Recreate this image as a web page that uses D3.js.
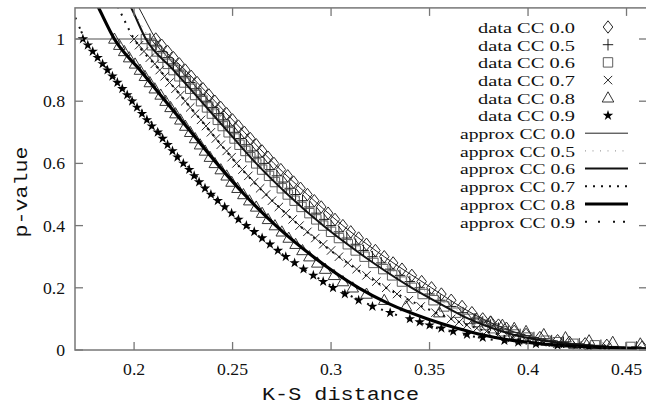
<!DOCTYPE html>
<html><head><meta charset="utf-8">
<script src="https://cdn.jsdelivr.net/npm/d3@7"></script>
<style>body{margin:0;background:#fff} svg{display:block}</style>
</head><body>
<svg id="c" width="646" height="405"></svg>
<script>
// ---------- data ----------
const xTicks = [0.2, 0.25, 0.3, 0.35, 0.4, 0.45];
const xTickLabels = ["0.2", "0.25", "0.3", "0.35", "0.4", "0.45"];
const yTicks = [0, 0.2, 0.4, 0.6, 0.8, 1];
const yTickLabels = ["0", "0.2", "0.4", "0.6", "0.8", "1"];

// p-value levels of the data points
const pLevels = [1.00,0.98,0.96,0.94,0.92,0.90,0.88,0.86,0.84,0.82,0.80,0.78,0.76,0.74,0.72,0.70,0.68,0.66,0.64,0.62,
  0.60,0.58,0.56,0.54,0.52,0.50,0.48,0.46,0.44,0.42,0.40,0.38,0.36,0.34,0.32,0.30,0.28,0.26,0.24,0.22,
  0.20,0.18,0.16,0.14,0.12,0.10,0.09,0.08,0.07,0.06,0.05,0.04,0.03,0.025,0.02,0.015,0.01];

// K-S distance of the data at each p level
const ksCC00 = [.211,.214,.217,.220,.223,.226,.229,.232,.235,.238,.241,.244,.247,.250,.253,.256,.259,.262,.265,.268,
  .271,.2745,.278,.281,.2845,.288,.2915,.295,.2985,.302,.306,.310,.314,.318,.3225,.327,.3315,.336,.341,.346,
  .351,.356,.361,.3665,.3715,.377,.381,.385,.389,.393,.399,.406,.415,.421,.429,.440,.458];
const ksCC05 = [.208,.211,.214,.217,.220,.223,.226,.2285,.2315,.234,.237,.240,.243,.2455,.2485,.251,.254,.257,.260,.263,
  .266,.269,.2725,.2755,.279,.282,.2855,.289,.2925,.2965,.300,.304,.308,.3125,.3165,.321,.3255,.330,.335,.340,
  .345,.350,.3555,.361,.367,.373,.377,.381,.385,.390,.396,.403,.412,.418,.426,.437,.455];
const ksCC06 = [.206,.209,.2115,.2145,.217,.220,.223,.2255,.2285,.231,.234,.237,.2395,.2425,.245,.248,.251,.2535,.2565,.259,
  .262,.265,.2685,.2715,.275,.278,.2815,.285,.289,.2925,.296,.300,.304,.3085,.3125,.317,.3215,.3265,.331,.336,
  .341,.3465,.352,.3575,.3635,.370,.374,.378,.382,.387,.393,.400,.409,.415,.423,.434,.452];
const ksCC07 = [.200,.2025,.205,.208,.2105,.213,.2155,.218,.221,.2235,.226,.2285,.231,.234,.2365,.239,.2415,.244,.247,.2495,
  .252,.255,.258,.261,.264,.267,.270,.2735,.277,.2805,.284,.288,.292,.296,.300,.304,.3085,.313,.318,.323,
  .328,.3335,.3395,.3455,.353,.361,.365,.369,.374,.379,.385,.392,.401,.407,.415,.425,.440];
const ksCC08 = [.190,.1925,.195,.1975,.2005,.203,.2055,.208,.2105,.2135,.216,.2185,.221,.2235,.226,.2285,.231,.2335,.236,.2385,
  .241,.244,.247,.2495,.2525,.2555,.2585,.262,.265,.268,.2715,.275,.2785,.282,.2855,.289,.293,.297,.3015,.306,
  .311,.318,.327,.338,.355,.374,.381,.387,.393,.399,.408,.419,.431,.443,.457,.475,.500];
const ksCC09 = [.174,.1765,.179,.1815,.184,.1865,.189,.1915,.194,.1965,.199,.2015,.204,.2065,.209,.212,.2145,.217,.2195,.222,
  .225,.228,.2305,.233,.236,.239,.2425,.246,.2495,.253,.257,.261,.265,.269,.273,.277,.2815,.286,.291,.296,
  .301,.307,.314,.321,.330,.340,.345,.350,.356,.362,.369,.377,.388,.395,.404,.415,.431];

// approximation curves: K-S distance at each p level
const pApprox = [1.15,1.10,1.00,0.90,0.80,0.70,0.60,0.50,0.40,0.30,0.20,0.15,0.10,0.07,0.05,0.03,0.02,0.013,0.008,0.005];
const apCC00 = [.198,.2025,.211,.226,.241,.256,.271,.288,.306,.327,.351,.363,.377,.388,.397,.412,.424,.437,.452,.470];
const apCC05 = [.195,.199,.208,.223,.237,.251,.266,.282,.300,.321,.345,.358,.373,.384,.394,.410,.422,.435,.450,.467];
const apCC06 = [.194,.1985,.206,.220,.234,.248,.262,.278,.296,.317,.341,.355,.370,.382,.392,.408,.420,.433,.448,.465];
const apCC07 = [.188,.192,.200,.213,.226,.239,.252,.267,.284,.304,.328,.343,.361,.374,.385,.401,.414,.428,.444,.462];
const apCC08 = [.178,.182,.190,.203,.216,.229,.242,.256,.272,.291,.314,.329,.349,.364,.376,.393,.406,.420,.436,.455];
const apCC09 = [.164,.168,.175,.187,.200,.213,.226,.240,.257,.277,.302,.318,.339,.354,.367,.385,.399,.414,.431,.450];

const dataLabels = ["data CC 0.0","data CC 0.5","data CC 0.6","data CC 0.7","data CC 0.8","data CC 0.9"];
const approxLabels = ["approx CC 0.0","approx CC 0.5","approx CC 0.6","approx CC 0.7","approx CC 0.8","approx CC 0.9"];
const unitRef = {p: 1, from: 0.17, to: 0.207};

// ---------- drawing ----------
const svg = d3.select("#c");
const W = 646, H = 405;
svg.append("rect").attr("width", W).attr("height", H).attr("fill", "#fff");

const x = d3.scaleLinear().domain([0.17, 0.4604]).range([75, 647]);
const y = d3.scaleLinear().domain([0, 1.1]).range([350, 7.9]);
const [x0, x1] = x.range(), [y0, y1] = y.range();

svg.append("clipPath").attr("id", "plot")
  .append("rect").attr("x", x0).attr("y", y1).attr("width", x1 - x0).attr("height", y0 - y1);

const axisCol = "#777";
const serif = "'Liberation Serif', 'DejaVu Serif', serif";
const mono = "'Liberation Mono', 'DejaVu Sans Mono', monospace";

// marker shapes
function markerPath(kind) {
  switch (kind) {
    case "diamond": return "M0,-6.2L4.8,0L0,6.2L-4.8,0Z";
    case "plus": return "M-5.2,0H5.2M0,-5.8V5.8";
    case "square": return "M-4.7,-4.7H4.7V4.7H-4.7Z";
    case "cross": return "M-4.2,-4.2L4.2,4.2M-4.2,4.2L4.2,-4.2";
    case "triangle": return "M0,-6L5.8,4.2L-5.8,4.2Z";
    case "star": return d3.symbol(d3.symbolStar, 34)();
  }
}
const dataSeries = [
  {ks: ksCC00, kind: "diamond", col: "#1a1a1a"},
  {ks: ksCC05, kind: "plus", col: "#111"},
  {ks: ksCC06, kind: "square", col: "#555"},
  {ks: ksCC07, kind: "cross", col: "#1a1a1a"},
  {ks: ksCC08, kind: "triangle", col: "#2a2a2a"},
  {ks: ksCC09, kind: "star", col: "#000"}
];
const approxSeries = [
  {ks: apCC00, w: 1, col: "#222", dash: null},
  {ks: apCC05, w: 1, col: "#888", dash: "1,6.5"},
  {ks: apCC06, w: 2, col: "#111", dash: null},
  {ks: apCC07, w: 2, col: "#111", dash: "2,6"},
  {ks: apCC08, w: 3.2, col: "#000", dash: null},
  {ks: apCC09, w: 2, col: "#111", dash: "2,11,2,13,2,8,2,3"}
];

const plot = svg.append("g").attr("clip-path", "url(#plot)");

// reference line at p = 1
plot.append("line")
  .attr("x1", x(unitRef.from)).attr("x2", x(unitRef.to))
  .attr("y1", y(unitRef.p)).attr("y2", y(unitRef.p))
  .attr("stroke", "#888").attr("stroke-width", 1.3);

function styleMarker(sel, s) {
  const filled = s.kind === "star";
  sel.attr("d", markerPath(s.kind))
    .attr("fill", filled ? s.col : "none")
    .attr("stroke", filled ? "none" : s.col)
    .attr("stroke-width", 0.95);
}

dataSeries.forEach(s => {
  const pts = pLevels.map((p, i) => ({d: s.ks[i], p}));
  plot.append("g").selectAll("path").data(pts).join("path")
    .attr("transform", q => `translate(${x(q.d)},${y(q.p)})`)
    .call(styleMarker, s);
});

const line = d3.line().x(q => x(q.d)).y(q => y(q.p)).curve(d3.curveMonotoneX);
approxSeries.forEach(s => {
  const pts = pApprox.map((p, i) => ({d: s.ks[i], p}));
  plot.append("path").datum(pts).attr("d", line)
    .attr("fill", "none").attr("stroke", s.col).attr("stroke-width", s.w)
    .attr("stroke-dasharray", s.dash);
});

// border
svg.append("rect").attr("x", x0).attr("y", y1).attr("width", x1 - x0).attr("height", y0 - y1)
  .attr("fill", "none").attr("stroke", axisCol).attr("stroke-width", 1.5);

// ticks
const tl = 8;
const ax = svg.append("g").attr("stroke", axisCol).attr("stroke-width", 1.3);
xTicks.forEach(t => {
  ax.append("line").attr("x1", x(t)).attr("x2", x(t)).attr("y1", y0).attr("y2", y0 - tl);
  ax.append("line").attr("x1", x(t)).attr("x2", x(t)).attr("y1", y1).attr("y2", y1 + tl);
});
yTicks.forEach(t => {
  ax.append("line").attr("x1", x0).attr("x2", x0 + tl).attr("y1", y(t)).attr("y2", y(t));
  ax.append("line").attr("x1", x1).attr("x2", x1 - tl).attr("y1", y(t)).attr("y2", y(t));
});

// tick labels
svg.append("g").selectAll("text").data(xTicks).join("text")
  .attr("x", d => x(d)).attr("y", 375).attr("text-anchor", "middle")
  .attr("font-family", serif).attr("font-size", 17.7).attr("fill", "#111")
  .text((d, i) => xTickLabels[i]);
svg.append("g").selectAll("text").data(yTicks).join("text")
  .attr("x", 65).attr("y", d => y(d) + 6).attr("text-anchor", "end")
  .attr("font-family", serif).attr("font-size", 17.7).attr("fill", "#111")
  .text((d, i) => yTickLabels[i]);

// axis titles
svg.append("text").attr("x", 340.5).attr("y", 400).attr("text-anchor", "middle")
  .attr("font-family", mono).attr("font-size", 19).attr("fill", "#111")
  .attr("textLength", 157).attr("lengthAdjust", "spacingAndGlyphs")
  .text("K-S distance");
svg.append("text").attr("transform", "translate(27,192) rotate(-90)").attr("text-anchor", "middle")
  .attr("font-family", mono).attr("font-size", 19).attr("fill", "#111")
  .attr("textLength", 91).attr("lengthAdjust", "spacingAndGlyphs")
  .text("p-value");

// legend
const lg = svg.append("g");
const rowY = i => 27 + 17.7 * i;
dataLabels.forEach((lab, i) => {
  lg.append("text").attr("x", 575).attr("y", rowY(i) + 5.8).attr("text-anchor", "end")
    .attr("font-family", serif).attr("font-size", 15.3).attr("fill", "#111")
    .attr("textLength", 97).attr("lengthAdjust", "spacingAndGlyphs").text(lab);
  lg.append("path").attr("transform", `translate(608,${rowY(i)})`).call(styleMarker, dataSeries[i]);
});
approxLabels.forEach((lab, j) => {
  const i = j + 6, s = approxSeries[j];
  lg.append("text").attr("x", 575).attr("y", rowY(i) + 5.8).attr("text-anchor", "end")
    .attr("font-family", serif).attr("font-size", 15.3).attr("fill", "#111")
    .attr("textLength", 115).attr("lengthAdjust", "spacingAndGlyphs").text(lab);
  lg.append("line").attr("x1", 585).attr("x2", 628).attr("y1", rowY(i)).attr("y2", rowY(i))
    .attr("stroke", s.col).attr("stroke-width", s.w).attr("stroke-dasharray", s.dash);
});
</script>
</body></html>
